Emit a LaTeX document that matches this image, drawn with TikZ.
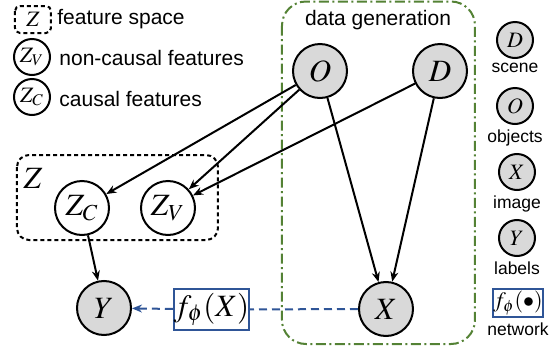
\documentclass[tikz,border=0pt]{standalone}
\usepackage{mathptmx}
\usepackage{fontspec}
\setmainfont{Liberation Sans}
\usepackage{tikz}
\usepackage{xcolor}
\usetikzlibrary{arrows.meta, positioning}

\definecolor{nodegray}{RGB}{217,217,217}
\definecolor{gengreen}{RGB}{84,130,53}
\definecolor{netblue}{RGB}{47,85,151}

\begin{document}
\begin{tikzpicture}[
        x=0.5pt, y=-0.5pt,
        every node/.style={inner sep=0pt},
        observed/.style={draw, circle, fill=nodegray, line width=1pt, minimum size=27pt, font=\fontsize{15.5}{16}\selectfont},
        hidden/.style={draw, circle, fill=white, line width=1pt, minimum size=27pt, font=\fontsize{15.5}{16}\selectfont},
        legobserved/.style={draw, circle, fill=nodegray, line width=1pt, minimum size=18pt, font=\fontsize{11}{11}\selectfont},
        leghidden/.style={draw, circle, line width=1pt, minimum size=18pt, font=\fontsize{11}{11}\selectfont},
        network/.style={draw=netblue, line width=1pt, fill=white},
        legtext/.style={font=\fontsize{10.5}{12}\selectfont, anchor=west},
        smalltext/.style={font=\fontsize{8.75}{10}\selectfont},
        arr/.style={-{Stealth[length=5pt, width=4pt]}, line width=1pt},
        netarr/.style={-{Stealth[length=5pt, width=4pt]}, netblue, line width=1pt, dash pattern=on 4pt off 2.5pt}
    ]
    \useasboundingbox (0,0) rectangle (554,349);

    % Legend left
    \draw[line width=1pt, dash pattern=on 2pt off 1.5pt, rounded corners=2.5pt] (15,6) rectangle (51,33);
    \node[font=\fontsize{11}{11}\selectfont] (legZ) at (33,19) {$Z$};
    \node[legtext] (legZtext) at (57,19) {feature space};
    \node[leghidden] (legZv) at (32,57) {$Z_V$};
    \node[legtext] (legZvtext) at (59,58) {non-causal features};
    \node[leghidden] (legZc) at (32,97) {$Z_C$};
    \node[legtext] (legZctext) at (59,99) {causal features};

    % Data generation box
    \draw[gengreen, line width=1pt, dash pattern=on 5pt off 1.75pt on 1pt off 1.75pt, rounded corners=12pt] (282,1.5) rectangle (475,344);
    \node[font=\fontsize{10.5}{12}\selectfont] (gen) at (378,20) {data generation};

    % Feature space
    \draw[line width=1pt, dash pattern=on 2pt off 1.5pt, rounded corners=6pt] (17,155) rectangle (218,240);
    \node[font=\fontsize{15.5}{16}\selectfont] (Zlabel) at (33,178) {$Z$};

    % Nodes
    \node[observed] (O) at (320,71) {$O$};
    \node[observed] (D) at (440,71) {$D$};
    \node[hidden] (Zc) at (82,208) {$Z_C$};
    \node[hidden] (Zv) at (168,208) {$Z_V$};
    \node[observed] (Y) at (104,308) {$Y$};
    \node[observed] (X) at (386,309) {$X$};
    \node[network, minimum width=36.5pt, minimum height=20.5pt, font=\fontsize{15.5}{16}\selectfont] (f) at (211.5,309.5) {$f_\phi(X)$};

    % Legend right
    \node[legobserved] (legD) at (515,40) {$D$};
    \node[smalltext, below=2pt of legD] (legDtext) {scene};
    \node[legobserved] (legO) at (515,106) {$O$};
    \node[smalltext, below=2pt of legO] (legOtext) {objects};
    \node[legobserved] (legX) at (517,172) {$X$};
    \node[smalltext, below=2pt of legX] (legXtext) {image};
    \node[legobserved] (legY) at (517,238) {$Y$};
    \node[smalltext, below=2pt of legY] (legYtext) {labels};
    \node[network, minimum width=25pt, minimum height=14pt, font=\fontsize{11}{11}\selectfont] (legf) at (518,303) {$f_\phi(\bullet)$};
    \node[smalltext, below=2pt of legf] (legftext) {network};

    % Arrows
    \draw[arr] (O) -- (Zc);
    \draw[arr] (O) -- (Zv);
    \draw[arr] (D) -- (Zv);
    \draw[arr] (O) -- (X);
    \draw[arr] (D) -- (X);
    \draw[arr] (Zc) -- (Y);
    \draw[netblue, line width=1pt, dash pattern=on 4pt off 2.5pt] (X) -- (f);
    \draw[netarr] (f) -- (Y);

\end{tikzpicture}
\end{document}
